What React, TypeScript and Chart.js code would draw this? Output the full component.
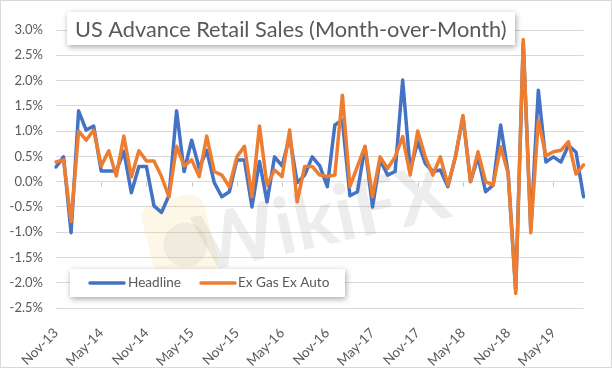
import React, { useEffect, useRef } from "react";
import { Chart, registerables } from "chart.js";

Chart.register(...registerables);

const categories = (
  "Nov-13 Dec-13 " +
  "Jan-14 Feb-14 Mar-14 Apr-14 May-14 Jun-14 Jul-14 Aug-14 Sep-14 Oct-14 Nov-14 Dec-14 " +
  "Jan-15 Feb-15 Mar-15 Apr-15 May-15 Jun-15 Jul-15 Aug-15 Sep-15 Oct-15 Nov-15 Dec-15 " +
  "Jan-16 Feb-16 Mar-16 Apr-16 May-16 Jun-16 Jul-16 Aug-16 Sep-16 Oct-16 Nov-16 Dec-16 " +
  "Jan-17 Feb-17 Mar-17 Apr-17 May-17 Jun-17 Jul-17 Aug-17 Sep-17 Oct-17 Nov-17 Dec-17 " +
  "Jan-18 Feb-18 Mar-18 Apr-18 May-18 Jun-18 Jul-18 Aug-18 Sep-18 Oct-18 Nov-18 Dec-18 " +
  "Jan-19 Feb-19 Mar-19 Apr-19 May-19 Jun-19 Jul-19 Aug-19 Sep-19"
).split(" ");

const tickLabels = [
  "Nov-13", "May-14", "Nov-14", "May-15", "Nov-15", "May-16",
  "Nov-16", "May-17", "Nov-17", "May-18", "Nov-18", "May-19",
];

const headline = [
  0.29, 0.49, -1.01, 1.4, 1.02, 1.1, 0.21, 0.21, 0.21, 0.6,
  -0.22, 0.3, 0.3, -0.48, -0.61, -0.27, 1.4, 0.2, 0.82, 0.27,
  0.62, -0.02, -0.3, -0.2, 0.43, 0.43, -0.5, 0.4, -0.4, 0.49,
  0.31, 0.89, -0.02, 0.13, 0.49, 0.31, -0.1, 1.12, 1.22, -0.28,
  -0.2, 0.69, -0.5, 0.43, 0.13, 0.2, 2.01, 0.23, 0.79, 0.36,
  0.2, 0.23, -0.1, 0.49, 1.28, 0.0, 0.49, -0.2, -0.07, 1.12,
  0.16, -2.15, 2.75, -0.95, 1.81, 0.39, 0.49, 0.39, 0.72, 0.58,
  -0.3,
];

const exGasExAuto = [
  0.39, 0.43, -0.79, 1.0, 0.82, 1.02, 0.31, 0.61, 0.11, 0.9,
  0.09, 0.61, 0.41, 0.41, 0.1, -0.3, 0.7, 0.31, 0.43, 0.1,
  0.9, 0.2, 0.13, -0.1, 0.49, 0.7, -0.3, 1.1, -0.07, 0.23,
  0.1, 1.02, -0.4, 0.3, 0.3, 0.13, 0.1, 0.13, 1.71, -0.1,
  0.3, 0.7, -0.3, 0.49, 0.26, 0.49, 0.89, 0.13, 1.0, 0.49,
  0.13, 0.49, -0.07, 0.49, 1.31, 0.0, 0.59, 0.0, -0.07, 0.69,
  0.16, -2.21, 2.81, -1.01, 1.22, 0.51, 0.59, 0.62, 0.79, 0.15,
  0.33,
];

const seriesNames = ["Headline", "Ex Gas Ex Auto"];
const seriesColors = ["#4472C4", "#ED7D31"];
const titleText = "US Advance Retail Sales (Month-over-Month)";
const watermarkText = "WikiFX";

const FONT = "Lato, 'Open Sans', sans-serif";
const TEXT_COLOR = "#595959";

function fitFont(ctx: CanvasRenderingContext2D, text: string, target: number, base: number, weight = "normal") {
  ctx.font = `${weight} ${base}px ${FONT}`;
  const w = ctx.measureText(text).width;
  return base * (target / w);
}

const overlayPlugin = {
  id: "overlay",
  beforeDatasetsDraw(chart: any) {
    const ctx: CanvasRenderingContext2D = chart.ctx;
    // watermark
    ctx.save();
    ctx.translate(322, 220);
    ctx.rotate(-0.22);
    ctx.fillStyle = "rgba(150,150,150,0.17)";
    ctx.font = `bold 78px ${FONT}`;
    ctx.textAlign = "center";
    ctx.textBaseline = "middle";
    ctx.fillText(watermarkText, 0, 0);
    ctx.restore();
    ctx.save();
    ctx.translate(180, 240);
    ctx.rotate(-0.25);
    ctx.fillStyle = "rgba(240,200,90,0.14)";
    ctx.beginPath();
    ctx.roundRect(-32, -42, 64, 84, 14);
    ctx.fill();
    ctx.fillStyle = "rgba(150,150,150,0.12)";
    ctx.beginPath();
    ctx.arc(4, 6, 22, 0, Math.PI * 2);
    ctx.fill();
    ctx.restore();

    // small tick marks on zero line
    const xs = chart.scales.x;
    const ys = chart.scales.y;
    const y0 = Math.round(ys.getPixelForValue(0)) + 0.5;
    ctx.save();
    ctx.strokeStyle = "#bfbfbf";
    ctx.lineWidth = 1;
    for (let i = 6; i < categories.length; i += 6) {
      const x = Math.round(xs.getPixelForValue(i)) + 0.5;
      ctx.beginPath();
      ctx.moveTo(x, y0);
      ctx.lineTo(x, y0 + 4);
      ctx.stroke();
    }
    ctx.restore();
  },
  afterDraw(chart: any) {
    const ctx: CanvasRenderingContext2D = chart.ctx;
    // title box
    ctx.save();
    ctx.shadowColor = "rgba(0,0,0,0.35)";
    ctx.shadowBlur = 6;
    ctx.shadowOffsetX = 1;
    ctx.shadowOffsetY = 2;
    ctx.fillStyle = "#ffffff";
    ctx.fillRect(67, 12, 448, 33);
    ctx.restore();
    ctx.save();
    const ts = fitFont(ctx, titleText, 432, 20);
    ctx.font = `${ts}px ${FONT}`;
    ctx.fillStyle = TEXT_COLOR;
    ctx.textBaseline = "middle";
    ctx.textAlign = "left";
    ctx.fillText(titleText, 75, 29.5);
    ctx.restore();

    // legend box
    ctx.save();
    ctx.shadowColor = "rgba(0,0,0,0.35)";
    ctx.shadowBlur = 6;
    ctx.shadowOffsetX = 1;
    ctx.shadowOffsetY = 2;
    ctx.fillStyle = "#ffffff";
    ctx.fillRect(70, 269, 275, 28);
    ctx.restore();
    ctx.save();
    const ls = fitFont(ctx, seriesNames[0], 53, 14);
    ctx.font = `${ls}px ${FONT}`;
    ctx.textBaseline = "middle";
    ctx.textAlign = "left";
    const items = [
      { x1: 90, x2: 124, tx: 128 },
      { x1: 201, x2: 235, tx: 238 },
    ];
    items.forEach((it, k) => {
      ctx.strokeStyle = seriesColors[k];
      ctx.lineWidth = 3.5;
      ctx.lineCap = "round";
      ctx.beginPath();
      ctx.moveTo(it.x1, 283);
      ctx.lineTo(it.x2, 283);
      ctx.stroke();
      ctx.fillStyle = TEXT_COLOR;
      ctx.fillText(seriesNames[k], it.tx, 283);
    });
    ctx.restore();

    // outer border
    ctx.save();
    ctx.strokeStyle = "#d9d9d9";
    ctx.lineWidth = 1;
    ctx.strokeRect(0.5, 0.5, 611, 367);
    ctx.restore();
  },
};

export default function App() {
  const ref = useRef<HTMLCanvasElement | null>(null);

  useEffect(() => {
    document.body.style.margin = "0";
    const canvas = ref.current;
    if (!canvas) return;
    const chart = new Chart(canvas, {
      type: "line",
      data: {
        labels: categories,
        datasets: [
          {
            label: seriesNames[0],
            data: headline,
            borderColor: seriesColors[0],
            backgroundColor: seriesColors[0],
            borderWidth: 3.5,
            pointRadius: 0,
            tension: 0,
            borderJoinStyle: "round",
            borderCapStyle: "round",
            order: 2,
          },
          {
            label: seriesNames[1],
            data: exGasExAuto,
            borderColor: seriesColors[1],
            backgroundColor: seriesColors[1],
            borderWidth: 3.5,
            pointRadius: 0,
            tension: 0,
            borderJoinStyle: "round",
            borderCapStyle: "round",
            order: 1,
          },
        ],
      },
      options: {
        animation: false,
        responsive: false,
        maintainAspectRatio: false,
        devicePixelRatio: 1,
        layout: { padding: { top: 30, right: 25, left: 0, bottom: 0 } },
        plugins: {
          legend: { display: false },
          title: { display: false },
          tooltip: { enabled: false },
        },
        scales: {
          x: {
            type: "category",
            offset: false,
            grid: { display: false, drawTicks: false },
            border: { display: false },
            ticks: {
              autoSkip: false,
              minRotation: 45,
              maxRotation: 45,
              padding: 17,
              color: TEXT_COLOR,
              font: { family: FONT, size: 13.5 },
              callback: (_v: any, i: number) =>
                tickLabels.includes(categories[i]) ? categories[i] : "",
            },
            afterFit: (s: any) => {
              s.height = 60;
            },
          },
          y: {
            min: -2.5,
            max: 3.0,
            grid: { color: "#d9d9d9", lineWidth: 1, drawTicks: false },
            border: { display: false },
            ticks: {
              stepSize: 0.5,
              padding: 13,
              color: TEXT_COLOR,
              font: { family: FONT, size: 13 },
              callback: (v: any) => Number(v).toFixed(1) + "%",
            },
            afterFit: (s: any) => {
              s.width = 56;
            },
          },
        },
      },
      plugins: [overlayPlugin],
    });
    return () => chart.destroy();
  }, []);

  return (
    <div style={{ width: 612, height: 368, position: "relative", background: "#fff" }}>
      <canvas ref={ref} width={612} height={368} style={{ width: 612, height: 368, display: "block" }} />
    </div>
  );
}
